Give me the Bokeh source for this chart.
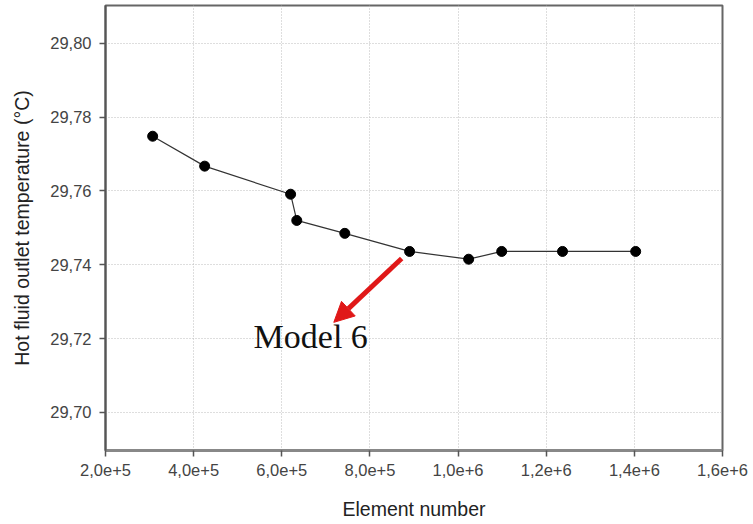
from bokeh.plotting import figure
from bokeh.models import FixedTicker, Range1d, Arrow, NormalHead, Label
from bokeh.embed import file_html
from bokeh.resources import INLINE

# Mesh independence study: hot fluid outlet temperature vs element count
elements = [3.07e5, 4.25e5, 6.20e5, 6.34e5, 7.43e5, 8.90e5, 1.024e6, 1.099e6, 1.237e6, 1.403e6]
outlet_temp = [29.7748, 29.7667, 29.7591, 29.7520, 29.7485, 29.7436, 29.7415, 29.7436, 29.7436, 29.7436]

x_ticks = [2e5, 4e5, 6e5, 8e5, 1e6, 1.2e6, 1.4e6, 1.6e6]
x_tick_labels = ["2,0e+5", "4,0e+5", "6,0e+5", "8,0e+5", "1,0e+6", "1,2e+6", "1,4e+6", "1,6e+6"]
y_ticks = [29.70, 29.72, 29.74, 29.76, 29.78, 29.80]
y_tick_labels = ["29,70", "29,72", "29,74", "29,76", "29,78", "29,80"]

p = figure(width=753, height=524, output_backend="svg", toolbar_location=None,
           x_range=Range1d(2e5, 1.6e6), y_range=Range1d(29.6897, 29.8102))
p.min_border_left = 105
p.min_border_right = 31
p.min_border_top = 5
p.min_border_bottom = 74

p.outline_line_color = "#666666"
p.outline_line_width = 2

font = "Liberation Sans"
for ax in (p.xaxis[0], p.yaxis[0]):
    ax.axis_line_color = "#555555"
    ax.axis_line_width = 2
    ax.major_tick_line_color = "#555555"
    ax.major_tick_line_width = 1.5
    ax.major_tick_out = 6
    ax.major_tick_in = 0
    ax.minor_tick_line_color = None
    ax.major_label_text_font = font
    ax.major_label_text_font_size = "16.5px"
    ax.major_label_text_color = "#444444"
    ax.axis_label_text_font = font
    ax.axis_label_text_font_size = "19.5px"
    ax.axis_label_text_font_style = "normal"
    ax.axis_label_text_color = "#222222"

p.xaxis.axis_line_width = 3
p.xaxis.axis_line_color = "#888888"
p.xaxis.ticker = FixedTicker(ticks=x_ticks)
p.xaxis.major_label_overrides = dict(zip(x_ticks, x_tick_labels))
p.xaxis.axis_label = "Element number"
p.xaxis.major_label_standoff = 7
p.xaxis.axis_label_standoff = 19

p.yaxis.ticker = FixedTicker(ticks=y_ticks)
p.yaxis.major_label_overrides = dict(zip(y_ticks, y_tick_labels))
p.yaxis.axis_label = "Hot fluid outlet temperature (\u00b0C)"
p.yaxis.major_label_standoff = 8
p.yaxis.axis_label_standoff = 14

for g in (p.xgrid[0], p.ygrid[0]):
    g.grid_line_color = "#bdbdbd"
    g.grid_line_dash = "1 2"
    g.grid_line_width = 1

p.line(elements, outlet_temp, line_color="#333333", line_width=1.2)
p.scatter(elements, outlet_temp, size=10, fill_color="black", line_color="black")

# Arrow pointing away from the selected mesh, with its label
p.add_layout(Arrow(end=NormalHead(size=20, fill_color="#e01818", line_color="#e01818"),
                   x_start=8.72e5, y_start=29.7417, x_end=7.18e5, y_end=29.7244,
                   line_color="#e01818", line_width=5))
p.add_layout(Label(x=5.36e5, y=29.7155, text="Model 6", text_font="Liberation Serif",
                   text_font_size="34px", text_color="#111111"))

open("out.html", "w").write(file_html(p, INLINE))
